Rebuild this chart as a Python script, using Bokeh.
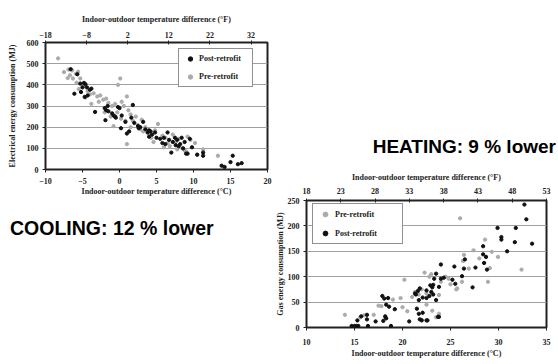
from bokeh.plotting import figure
from bokeh.models import Range1d, LinearAxis, FixedTicker, Legend, LegendItem, Div
from bokeh.layouts import row, column
from bokeh.embed import file_html
from bokeh.resources import INLINE

# ---------------- data: cooling (electricity) ----------------
cool_pre_dT = [-8.3, -7.5, -6.9, -6.4, -6.7, -5.9, -5.6, -7.0, -6.3, -5.3, -5.8, -4.9, -5.5, -4.3, -4.0,
               -3.5, -3.0, -2.6, -2.2, -2.8, -1.8, -1.5, -1.0, -0.6, -0.2, 0.1, -0.3, 0.3, 0.6, 1.0,
               1.2, 1.5, 0.8, 0.2, -0.8, 1.0, 1.8, 2.2, 2.5, 2.8, 3.2, 3.5, 4.0, 4.3, 4.6,
               5.2, 5.8, 6.2, 6.5, 6.8, 7.2, 7.6, 8.0, 8.5, 8.8, 9.2, 9.6, 10.2, 10.5, 11.3,
               13.3, -4.6, -3.8, -2.0, -1.2, 1.5, 3.0, 4.8, 6.0, 7.8, 9.0]
cool_pre_E = [525, 460, 472, 468, 445, 452, 462, 432, 430, 430, 410, 395, 380, 370, 355,
              360, 345, 350, 330, 320, 335, 315, 300, 310, 400, 430, 270, 320, 300, 345,
              280, 260, 230, 240, 205, 120, 230, 250, 210, 190, 180, 200, 170, 150, 130,
              215, 160, 150, 125, 110, 165, 130, 145, 100, 90, 155, 140, 125, 70, 95,
              65, 340, 310, 270, 250, 200, 235, 185, 105, 95, 85]
cool_post_dT = [-6.6, -5.7, -6.1, -5.2, -5.3, -4.8, -4.6, -5.0, -4.4, -4.0, -3.8, -4.3, -4.7, -3.3, -2.0,
                -1.8, -1.6, -1.5, -1.9, -1.0, -0.6, -0.5, -0.2, 0.3, 0.2, 0.8, 1.0, 1.3, 1.8, 2.0,
                2.5, 2.6, 2.8, 3.2, 3.5, 3.8, 4.0, 4.2, 4.4, 4.0, 4.8, 5.0, 5.5, 6.0, 6.2,
                6.5, 6.7, 7.0, 7.2, 7.5, 7.6, 7.8, 8.0, 8.2, 8.4, 8.8, 9.2, 9.5, 9.8, 10.5,
                11.3, 11.3, 13.8, 14.2, 15.0, 15.3, 16.0, 16.5, 0.0, -0.8, 1.6, 5.8, 8.6, 9.0]
cool_post_E = [474, 450, 358, 366, 406, 409, 403, 388, 388, 377, 382, 350, 343, 272, 290,
               280, 300, 275, 233, 265, 250, 245, 295, 255, 195, 225, 170, 180, 305, 220,
               205, 195, 200, 225, 190, 175, 185, 180, 165, 155, 175, 150, 145, 150, 120,
               175, 140, 80, 130, 150, 115, 140, 110, 120, 150, 130, 75, 145, 105, 70,
               65, 80, 18, 12, 35, 65, 25, 30, 290, 255, 245, 125, 100, 75]

# ---------------- data: heating (gas) ----------------
heat_pre_dT = [14.0, 15.6, 16.0, 17.0, 17.5, 17.8, 19.8, 20.0, 20.2, 20.5, 21.3, 21.7, 22.0, 22.3, 22.5,
               22.8, 23.0, 23.1, 23.5, 23.8, 23.8, 24.0, 22.5, 24.8, 25.0, 25.6, 25.7, 26.0, 26.2, 26.3,
               26.4, 26.9, 27.4, 28.0, 28.6, 28.9, 29.1, 29.3, 29.95, 32.4, 19.0, 21.0, 18.2, 22.0, 24.5]
heat_pre_E = [25, 20, 24, 25, 43, 42, 58, 40, 94, 32, 70, 65, 15, 108, 45,
              100, 105, 33, 20, 27, 64, 90, 67, 96, 85, 75, 77, 215, 90, 131,
              143, 116, 152, 136, 173, 90, 117, 149, 139, 114, 55, 60, 20, 75, 100]
heat_post_dT = [14.7, 15.0, 15.2, 15.4, 16.4, 18.8, 15.3, 15.7, 16.3, 16.3, 17.2, 17.9, 18.1, 18.5, 18.3,
                18.6, 19.2, 18.2, 18.3, 18.0, 20.7, 21.3, 21.4, 21.6, 21.8, 21.7, 21.5, 21.7, 21.8, 22.6,
                22.5, 22.9, 23.1, 23.3, 23.2, 23.5, 23.8, 23.5, 23.2, 23.7, 24.0, 24.0, 25.2, 25.5, 25.4,
                26.2, 26.4, 26.5, 27.3, 27.6, 28.4, 28.4, 28.7, 28.5, 28.8, 29.9, 30.3, 30.3, 30.9, 31.7,
                31.8, 32.7, 32.9, 33.5, 22.1, 22.5, 22.1, 22.5, 22.0, 23.8, 22.8, 23.0, 24.3]
heat_post_E = [3, 3, 3, 3, 3, 3, 14, 22, 16, 25, 12, 62, 57, 58, 45,
               41, 36, 22, 18, 13, 12, 67, 65, 72, 77, 54, 37, 27, 16, 14,
               73, 83, 79, 96, 84, 106, 80, 54, 65, 21, 96, 124, 94, 86, 120,
               101, 116, 134, 79, 118, 160, 144, 139, 127, 114, 196, 178, 173, 150, 168,
               196, 242, 213, 165, 59, 58, 29, 14, 14, 21, 62, 70, 98]

# ---------------- ticks / labels ----------------
cool_x_ticks = [-10, -5, 0, 5, 10, 15, 20]
cool_y_ticks = [0, 100, 200, 300, 400, 500, 600]
cool_f_ticks = [-18, -8, 2, 12, 22, 32]
heat_x_ticks = [10, 15, 20, 25, 30, 35]
heat_y_ticks = [0, 50, 100, 150, 200, 250]
heat_f_ticks = [18, 23, 28, 33, 38, 43, 48, 53]

label_F = "Indoor-outdoor temperature difference (°F)"
label_C = "Indoor-outdoor temperature difference (°C)"
label_elec = "Electrical energy consumption (MJ)"
label_gas = "Gas energy consumption (MJ)"
cool_text = "COOLING: 12 % lower"
heat_text = "HEATING: 9 % lower"

GRAY = "#ababab"
BLACK = "#111111"
TXT = "#222222"
SERIF = "Liberation Serif"
DOT = 3.3


def style_axis(ax, ticks, t_in, t_out, lab_standoff, title_standoff):
    ax.ticker = FixedTicker(ticks=ticks)
    ax.axis_line_color = None
    ax.major_tick_in = t_in
    ax.major_tick_out = t_out
    ax.major_tick_line_color = TXT
    ax.major_tick_line_width = 1
    ax.minor_tick_line_color = None
    ax.major_label_standoff = lab_standoff
    ax.major_label_text_font = SERIF
    ax.major_label_text_font_style = "bold"
    ax.major_label_text_font_size = "8px"
    ax.major_label_text_color = TXT
    ax.axis_label_standoff = title_standoff
    ax.axis_label_text_font = SERIF
    ax.axis_label_text_font_style = "bold"
    ax.axis_label_text_font_size = "8px"
    ax.axis_label_text_color = TXT


def make_fig(fw, fh, xr, yr, fr, borders, y_ticks):
    p = figure(frame_width=fw, frame_height=fh, x_range=xr, y_range=yr,
               output_backend="svg", toolbar_location=None,
               min_border_left=borders[0], min_border_right=borders[1],
               min_border_top=borders[2], min_border_bottom=borders[3])
    p.title.visible = False
    p.extra_x_ranges = {"F": fr}
    p.outline_line_color = TXT
    p.outline_line_width = 2
    p.background_fill_color = "white"
    p.border_fill_color = "white"
    p.xgrid.visible = False
    p.ygrid.ticker = FixedTicker(ticks=y_ticks[1:-1])
    p.ygrid.grid_line_color = "#a0a0a0"
    p.ygrid.grid_line_width = 1
    return p


def make_legend(p, items, loc, pad, gw, gh, lw, lh, standoff, spacing):
    leg = Legend(items=items, location=loc, margin=0, padding=pad,
                 glyph_width=gw, glyph_height=gh, label_width=lw, label_height=lh,
                 label_standoff=standoff, spacing=spacing,
                 border_line_color=TXT, border_line_width=1.5,
                 background_fill_color="white", background_fill_alpha=1.0,
                 label_text_font=SERIF, label_text_font_style="bold",
                 label_text_font_size="8px", label_text_color=TXT)
    p.add_layout(leg, "center")


def big_text(text, width, height, pad_top, align, size, pad_side):
    side = "padding-left" if align == "left" else "padding-right"
    return Div(text=text, width=width, height=height, margin=0,
               styles={"font-family": "'Liberation Sans', Arial, sans-serif",
                       "font-weight": "bold", "font-size": size,
                       "line-height": "22px", "color": "black",
                       "padding-top": f"{pad_top}px", side: f"{pad_side}px",
                       "text-align": align,
                       "box-sizing": "border-box", "white-space": "nowrap"})


# ---------------- cooling figure (canvas 0..272 x 0..201) ----------------
pc = make_fig(222, 127, Range1d(-10, 20), Range1d(0, 600), Range1d(-18, 36),
              (45, 5, 42, 32), cool_y_ticks)
style_axis(pc.xaxis[0], cool_x_ticks, 0, 3, 5, 0)
pc.xaxis[0].axis_label = label_C
style_axis(pc.yaxis[0], cool_y_ticks, 0, 3, 4, 7)
pc.yaxis[0].axis_label = label_elec
ax_fc = LinearAxis(x_range_name="F", axis_label=label_F)
style_axis(ax_fc, cool_f_ticks, 2, 2, 3, 5)
pc.add_layout(ax_fc, "above")

rc_pre = pc.scatter(cool_pre_dT, cool_pre_E, marker="circle", size=DOT, color=GRAY)
rc_post = pc.scatter(cool_post_dT, cool_post_E, marker="circle", size=DOT, color=BLACK)
make_legend(pc, [LegendItem(label="Post-retrofit", renderers=[rc_post]),
                 LegendItem(label="Pre-retrofit", renderers=[rc_pre])],
            (133, 82), 4, 14, 11, 49, 11, 2, 7)

# ---------------- heating figure (canvas 272..558 x 166..364) ----------------
ph = make_fig(240, 127, Range1d(10, 35), Range1d(0, 250), Range1d(18, 53),
              (34, 12, 34, 37), heat_y_ticks)
style_axis(ph.xaxis[0], heat_x_ticks, 0, 3, 8, 1)
ph.xaxis[0].axis_label = label_C
style_axis(ph.yaxis[0], heat_y_ticks, 0, 3, 4, 0)
ph.yaxis[0].axis_label = label_gas
ax_fh = LinearAxis(x_range_name="F", axis_label=label_F)
style_axis(ax_fh, heat_f_ticks, 2, 2, 5, 3)
ph.add_layout(ax_fh, "above")

rh_pre = ph.scatter(heat_pre_dT, heat_pre_E, marker="circle", size=DOT, color=GRAY)
rh_post = ph.scatter(heat_post_dT, heat_post_E, marker="circle", size=DOT, color=BLACK)
make_legend(ph, [LegendItem(label="Pre-retrofit", renderers=[rh_pre]),
                 LegendItem(label="Post-retrofit", renderers=[rh_post])],
            (6, 83), 4, 16, 12, 63, 12, 2, 7)

div_cool = big_text(cool_text, 272, 60, 16, "left", "19.5px", 10)
div_heat = big_text(heat_text, 286, 166, 136, "right", "19px", 2)

layout = row(column(pc, div_cool, spacing=0), column(div_heat, ph, spacing=0), spacing=0)
open("out.html", "w").write(file_html(layout, INLINE))
